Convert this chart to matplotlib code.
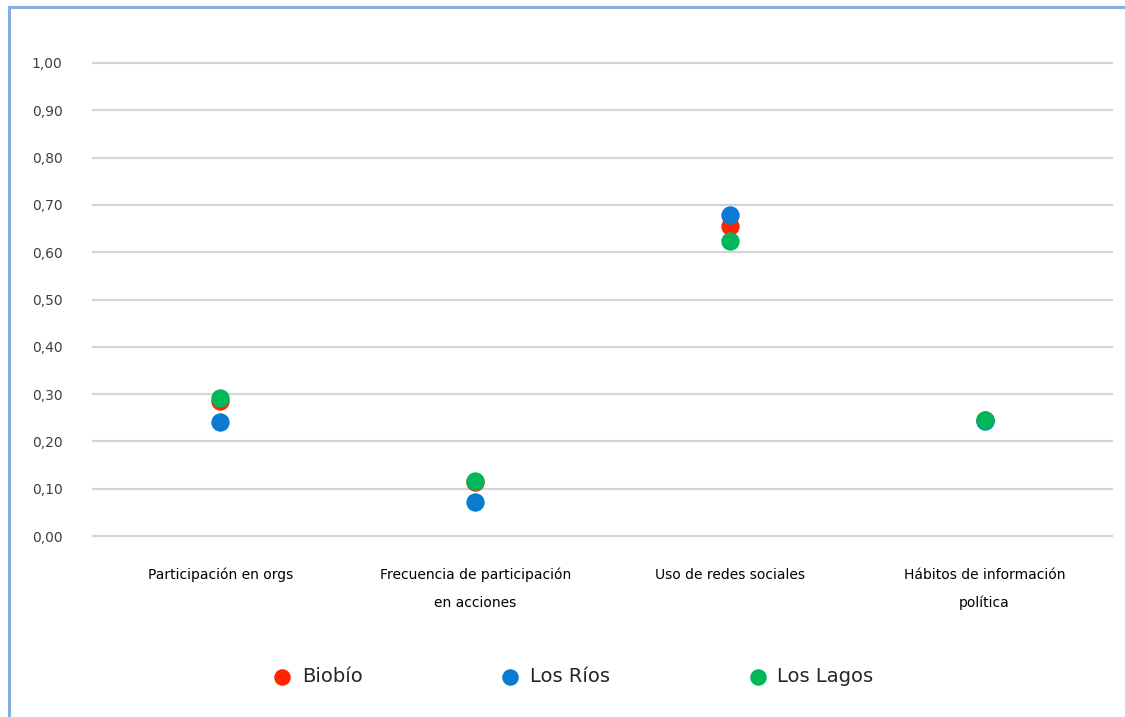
import matplotlib.pyplot as plt
from matplotlib.patches import Rectangle
from matplotlib.ticker import FuncFormatter

categories = ['Participación en orgs', 'Frecuencia de participación\nen acciones',
              'Uso de redes sociales', 'Hábitos de información\npolítica']
biobio = [0.285, 0.115, 0.655, 0.245]
los_rios = [0.242, 0.071, 0.679, 0.243]
los_lagos = [0.291, 0.116, 0.623, 0.245]

series = [('Biobío', biobio, '#FF2500'),
          ('Los Ríos', los_rios, '#0A7BD0'),
          ('Los Lagos', los_lagos, '#00B75A')]

fig = plt.figure(figsize=(11.25, 7.17), dpi=100)
ax = fig.add_axes([93 / 1125, 1 - 536 / 717, (1112 - 93) / 1125, (536 - 63) / 717])

x = list(range(len(categories)))
for i, (name, vals, c) in enumerate(series):
    ax.scatter(x, vals, s=175, color=c, label=name, zorder=3 + i, linewidths=0)

ax.set_xlim(-0.5, len(categories) - 0.5)
ax.set_ylim(0, 1.0)
ax.set_yticks([i / 10 for i in range(11)])
ax.yaxis.set_major_formatter(FuncFormatter(lambda v, p: f'{v:.2f}'.replace('.', ',')))
ax.set_xticks(x)
ax.set_xticklabels(categories, fontsize=10, color='black', linespacing=2.2)
ax.tick_params(axis='y', length=0, pad=44, labelsize=10, labelcolor='#404040')
ax.tick_params(axis='x', length=0, pad=23)
for lab in ax.get_yticklabels():
    lab.set_horizontalalignment('left')

ax.grid(axis='y', color='#D4D4D4', linewidth=1.6)
for gl in ax.get_ygridlines():
    gl.set_clip_on(False)
ax.set_axisbelow(True)
for s in ax.spines.values():
    s.set_visible(False)

leg = fig.legend(loc='center', bbox_to_anchor=(0.505, 1 - 677 / 717), ncol=3,
                 frameon=False, fontsize=14, handletextpad=0.0, columnspacing=6.6,
                 markerscale=0.9, scatterpoints=1)
for t in leg.get_texts():
    t.set_color('#262626')

fig.patches.append(Rectangle((9 / 1125, -0.1), 1.2, 1 - 7 / 717 + 0.1, transform=fig.transFigure,
                             fill=False, edgecolor='#86AEDC', linewidth=2.2))

fig.savefig('out.png', dpi=100)
